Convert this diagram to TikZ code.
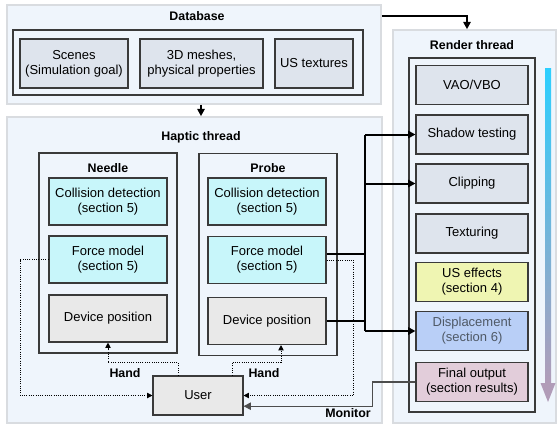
\documentclass[tikz,border=0pt]{standalone}
\usepackage{fontspec}
\setmainfont{Liberation Sans}
\usetikzlibrary{arrows.meta, positioning}

\definecolor{threadfill}{HTML}{EFF5FC}
\definecolor{threadline}{HTML}{D9DCE0}
\definecolor{boxline}{HTML}{3A3A3A}
\definecolor{stagefill}{HTML}{DEE4ED}
\definecolor{cyanfill}{HTML}{C8F6FA}
\definecolor{devfill}{HTML}{E9E9E9}
\definecolor{usfill}{HTML}{EFF5B2}
\definecolor{dispfill}{HTML}{B9CFF7}
\definecolor{finalfill}{HTML}{E2CDDA}
\definecolor{disptext}{HTML}{4F5966}
\definecolor{monline}{HTML}{4D4D4D}
\definecolor{flowtop}{HTML}{2CCFFF}
\definecolor{flowbot}{HTML}{B19CB8}

\tikzset{
    thread/.style={draw=threadline, line width=1.2pt, fill=threadfill},
    group/.style={draw=boxline, line width=0.8pt},
    title/.style={font=\bfseries\fontsize{9.3}{11}\selectfont},
    block/.style={draw=boxline, line width=0.8pt, align=center, inner sep=0pt},
    dbbox/.style={block, fill=stagefill, minimum height=36.75pt},
    hapbox/.style={block, minimum width=88.5pt, minimum height=35.25pt},
    stage/.style={block, fill=stagefill, minimum width=84pt, minimum height=29.25pt},
    conn/.style={line width=1.5pt},
    dotconn/.style={densely dotted, line width=0.7pt, -{Triangle[length=4pt,width=4pt]}},
}

\begin{document}
\begin{tikzpicture}[x=0.75pt, y=-0.75pt, >={Triangle[length=5.5pt,width=5.5pt]},
    font=\fontsize{9.75}{11.25}\selectfont]
    \useasboundingbox (0,0) rectangle (560,426);

    % Database
    \node (db) at (194,54.5) [thread, minimum width=280.5pt, minimum height=74.25pt] {};
    \node (dbtitle) at (197,16) [title] {Database};
    \node (dbin) at (188,62.5) [group, minimum width=262.5pt, minimum height=48.75pt] {};
    \node (scenes) at (74,63.5) [dbbox, minimum width=81pt] {Scenes\\(Simulation goal)};
    \node (meshes) at (201.5,63.5) [dbbox, minimum width=92.25pt] {3D meshes,\\physical properties};
    \node (textures) at (314,63.5) [dbbox, minimum width=58.5pt] {US textures};

    % Haptic thread
    \node (haptic) at (194.5,270) [thread, minimum width=281.25pt, minimum height=229.5pt] {};
    \node (htitle) at (201,137) [title] {Haptic thread};
    \node (needle) at (108,253) [group, minimum width=103.5pt, minimum height=150pt] {};
    \node (probe) at (268,254.5) [group, minimum width=103.5pt, minimum height=152pt] {};
    \node (ntitle) at (108,168) [title] {Needle};
    \node (ptitle) at (268,168) [title] {Probe};
    \node (ncoll) at (108,201.5) [hapbox, fill=cyanfill] {Collision detection\\(section 5)};
    \node (nforce) at (108,259.5) [hapbox, fill=cyanfill] {Force model\\(section 5)};
    \node (ndev) at (108,318.5) [hapbox, fill=devfill] {Device position};
    \node (pcoll) at (267,201.5) [hapbox, fill=cyanfill] {Collision detection\\(section 5)};
    \node (pforce) at (267,260) [hapbox, fill=cyanfill] {Force model\\(section 5)};
    \node (pdev) at (267,321) [hapbox, fill=devfill] {Device position};
    \node (user) at (198,395.5) [block, fill=devfill, minimum width=67.5pt, minimum height=29.25pt] {User};
    \node (hand1) at (125,373) [title] {Hand};
    \node (hand2) at (264,373) [title] {Hand};
    \node (monlbl) at (348,413) [title] {Monitor};

    % Render thread
    \node (render) at (474.5,226.5) [thread, minimum width=122.25pt, minimum height=294.75pt] {};
    \node (rtitle) at (472,45) [title] {Render thread};
    \node (rin) at (472,235) [group, minimum width=94.5pt, minimum height=265.5pt] {};
    \node (vao) at (472,85) [stage] {VAO/VBO};
    \node (shadow) at (472,134.5) [stage] {Shadow testing};
    \node (clip) at (472,183.5) [stage] {Clipping};
    \node (tex) at (472,233.5) [stage] {Texturing};
    \node (usfx) at (472,282) [stage, fill=usfill] {US effects\\(section 4)};
    \node (disp) at (472,331) [stage, fill=dispfill, text=disptext] {Displacement\\(section 6)};
    \node (final) at (472,382) [stage, fill=finalfill] {Final output\\(section results)};

    % pipeline direction
    \shade [top color=flowtop, bottom color=flowbot] (545,68) rectangle (551,384);
    \fill [flowbot] (540.5,383) -- (555.5,383) -- (548,402) -- cycle;

    % Database feeds both threads
    \draw [conn, ->] (db.east |- dbtitle) -| ([xshift=-3.75pt]rtitle.north |- render.north);
    \draw [conn, ->] (htitle |- db.south) -- (htitle |- haptic.north);

    % Probe to render stages
    \coordinate (bustop) at (365,134.5);
    \coordinate (busbot) at (365,331);
    \draw [conn] (bustop) -- (busbot);
    \draw [conn] ([yshift=4.5pt]pforce.east) -- ([yshift=4.5pt]pforce.east -| bustop);
    \draw [conn] (pdev.east) -- (pdev.east -| bustop);
    \draw [conn, ->] (bustop) -- (shadow.west);
    \draw [conn, ->] (bustop |- clip) -- (clip.west);
    \draw [conn, ->] (busbot) -- (disp.west);

    % User loop
    \draw [dotconn] ([xshift=-15pt]user.north) -- ++(0,-13) -| (ndev.south);
    \draw [dotconn] (nforce.west) -- ++(-28,0) |- (user.west);
    \draw [dotconn] ([xshift=25.5pt]user.north) -- ++(0,-13) -| ([xshift=10.5pt]pdev.south);
    \draw [dotconn] (pforce.east) -- ++(27,0) |- (user.east);
    \draw [monline, line width=0.9pt, ->] (final.west) -- ++(-43,0) |- ([yshift=-8pt]user.east);
\end{tikzpicture}
\end{document}
